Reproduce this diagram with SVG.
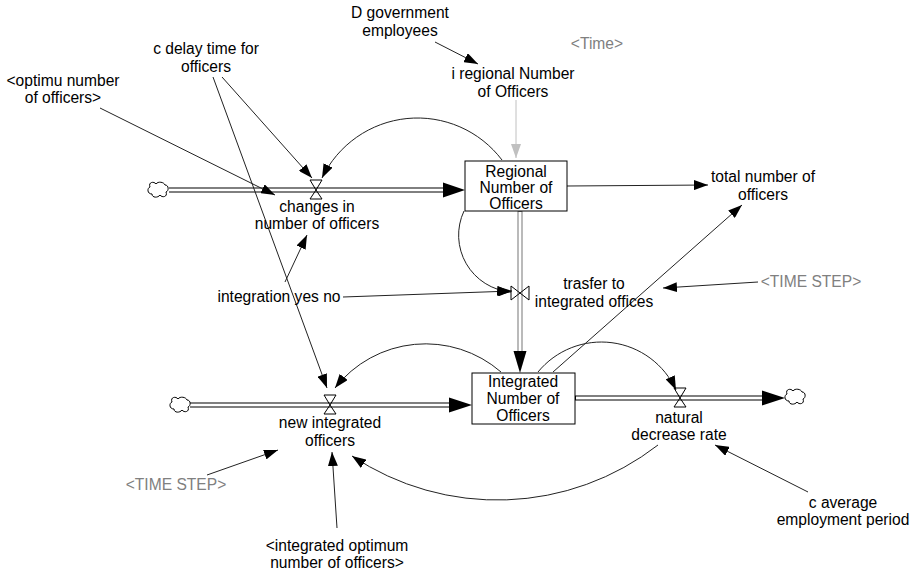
<svg xmlns="http://www.w3.org/2000/svg" xmlns:xlink="http://www.w3.org/1999/xlink" width="915" height="575" viewBox="0 0 915 575">
<style>
text{font-family:"Liberation Sans",Arial,sans-serif;font-size:15.6px;fill:#000;text-anchor:middle}
text.g{fill:#808080}
.box{fill:#fff;stroke:#000;stroke-width:1}
.con{fill:none;stroke:#222;stroke-width:1}
.cong{fill:none;stroke:#c0c0c0;stroke-width:1}
.pipeo{stroke:#000;stroke-width:5;fill:none}
.pipeg{stroke:#777;stroke-width:5;fill:none}
.pipei{stroke:#fff;stroke-width:3;fill:none}
.valve{fill:none;stroke:#000;stroke-width:1}
.cloud{fill:#fff;stroke:#000;stroke-width:1}
.head{fill:#000}
</style>
<defs>
<marker id="ah" markerUnits="userSpaceOnUse" markerWidth="14" markerHeight="10" refX="14" refY="5" orient="auto" viewBox="0 0 14 10"><path d="M0,0 L14,5 L0,10 z" fill="#000"/></marker>
<marker id="ahg" markerUnits="userSpaceOnUse" markerWidth="14" markerHeight="10" refX="14" refY="5" orient="auto" viewBox="0 0 14 10"><path d="M0,0 L14,5 L0,10 z" fill="#c0c0c0"/></marker>
<path id="cloud" class="cloud" d="M-8,-3 C-10,-8 -4,-9 -2,-6 C0,-9 6,-8 7,-5 C11,-5 11,1 8,2 C10,7 4,8 2,5 C0,8 -6,8 -6,4 C-11,4 -11,-2 -8,-3 Z"/>
<path id="hg" class="valve" d="M-6,-10 L6,-10 L0,0 Z M-6,9 L6,9 L0,0 Z"/>
<path id="bt" class="valve" d="M-9,-7 L-9,7 L0,0 Z M9,-7 L9,7 L0,0 Z"/>
</defs>
<rect width="915" height="575" fill="#fff"/>

<g id="connectors">
<!-- flows -->
<path class="pipeo" d="M169,190 H445"/><path class="pipei" d="M168,190 H446"/>
<polygon class="head" points="443,182.5 465,190 443,197.5"/>
<path class="pipeo" d="M190,405 H451"/><path class="pipei" d="M189,405 H452"/>
<polygon class="head" points="449,397.5 472,405 449,412.5"/>
<path class="pipeo" d="M575,398 H764"/><path class="pipei" d="M576,398 H765"/>
<polygon class="head" points="762,390.5 785,398 762,405.5"/>
<path class="pipeg" d="M520,211 V354"/><path class="pipei" d="M520,212 V355"/>
<polygon class="head" points="513.5,351 520,373 526.5,351"/>
<!-- straight connectors -->
<path class="con" marker-end="url(#ah)" d="M100,108 L275,195"/>
<path class="con" marker-end="url(#ah)" d="M222,77 L312,178"/>
<path class="con" marker-end="url(#ah)" d="M213,77 L327,388"/>
<path class="con" marker-end="url(#ah)" d="M435,42 L478,64"/>
<path class="cong" marker-end="url(#ahg)" d="M516,100 L516,158"/>
<path class="con" marker-end="url(#ah)" d="M567,186 L708,185"/>
<path class="con" marker-end="url(#ah)" d="M343,297 L512,291"/>
<path class="con" marker-end="url(#ah)" d="M285,282 L307,235"/>
<path class="con" marker-end="url(#ah)" d="M553,372 L742,205"/>
<path class="con" marker-end="url(#ah)" d="M758,282 L663,288"/>
<path class="con" marker-end="url(#ah)" d="M808,492 L715,445"/>
<path class="con" marker-end="url(#ah)" d="M207,475 L278,450"/>
<path class="con" marker-end="url(#ah)" d="M337,528 L332,452"/>
<!-- curved connectors -->
<path class="con" marker-end="url(#ah)" d="M502,160 A106,106 0 0 0 322,178"/>
<path class="con" marker-end="url(#ah)" d="M464,211 A57,57 0 0 0 511,292"/>
<path class="con" marker-end="url(#ah)" d="M501,372 A115,115 0 0 0 335,388"/>
<path class="con" marker-end="url(#ah)" d="M538,372 A82,82 0 0 1 676,390"/>
<path class="con" marker-end="url(#ah)" d="M658,445 A262,262 0 0 1 352,456"/>
<!-- valves and clouds -->
<use xlink:href="#hg" x="316" y="190"/>
<use xlink:href="#hg" x="330" y="405"/>
<use xlink:href="#hg" x="680" y="398"/>
<use xlink:href="#bt" x="520" y="293"/>
<use xlink:href="#cloud" x="158" y="190"/>
<use xlink:href="#cloud" x="180" y="405"/>
<use xlink:href="#cloud" x="795" y="397"/>
</g>

<g id="regional-number-of-officers">
<rect class="box" x="465" y="161" width="102" height="50"/>
<text x="516" y="177">Regional</text><text x="516" y="193">Number of</text><text x="516" y="209">Officers</text>
</g>
<g id="integrated-number-of-officers">
<rect class="box" x="472" y="373" width="103" height="51"/>
<text x="523" y="387">Integrated</text><text x="523" y="404">Number of</text><text x="523" y="421">Officers</text>
</g>
<g id="changes-in-number-of-officers"><text x="317" y="212">changes in</text><text x="317" y="229">number of officers</text></g>
<g id="new-integrated-officers"><text x="330" y="428">new integrated</text><text x="330" y="446">officers</text></g>
<g id="natural-decrease-rate"><text x="679" y="423">natural</text><text x="679" y="440">decrease rate</text></g>
<g id="trasfer-to-integrated-offices"><text x="594" y="289">trasfer to</text><text x="594" y="307">integrated offices</text></g>
<g id="total-number-of-officers"><text x="763" y="182">total number of</text><text x="763" y="200">officers</text></g>
<g id="time-step-right"><text class="g" x="811" y="287">&lt;TIME STEP&gt;</text></g>
<g id="time-step-left"><text class="g" x="176" y="490">&lt;TIME STEP&gt;</text></g>
<g id="time"><text class="g" x="597" y="49">&lt;Time&gt;</text></g>
<g id="d-government-employees"><text x="400" y="18">D government</text><text x="400" y="36">employees</text></g>
<g id="i-regional-number-of-officers"><text x="513" y="79">i regional Number</text><text x="513" y="97">of Officers</text></g>
<g id="c-delay-time-for-officers"><text x="206" y="54">c delay time for</text><text x="206" y="72">officers</text></g>
<g id="optimu-number-of-officers"><text x="63" y="86">&lt;optimu number</text><text x="63" y="103">of officers&gt;</text></g>
<g id="integration-yes-no"><text x="279" y="302">integration yes no</text></g>
<g id="c-average-employment-period"><text x="843" y="508">c average</text><text x="843" y="525">employment period</text></g>
<g id="integrated-optimum-number-of-officers"><text x="337" y="551">&lt;integrated optimum</text><text x="337" y="568">number of officers&gt;</text></g>
</svg>
